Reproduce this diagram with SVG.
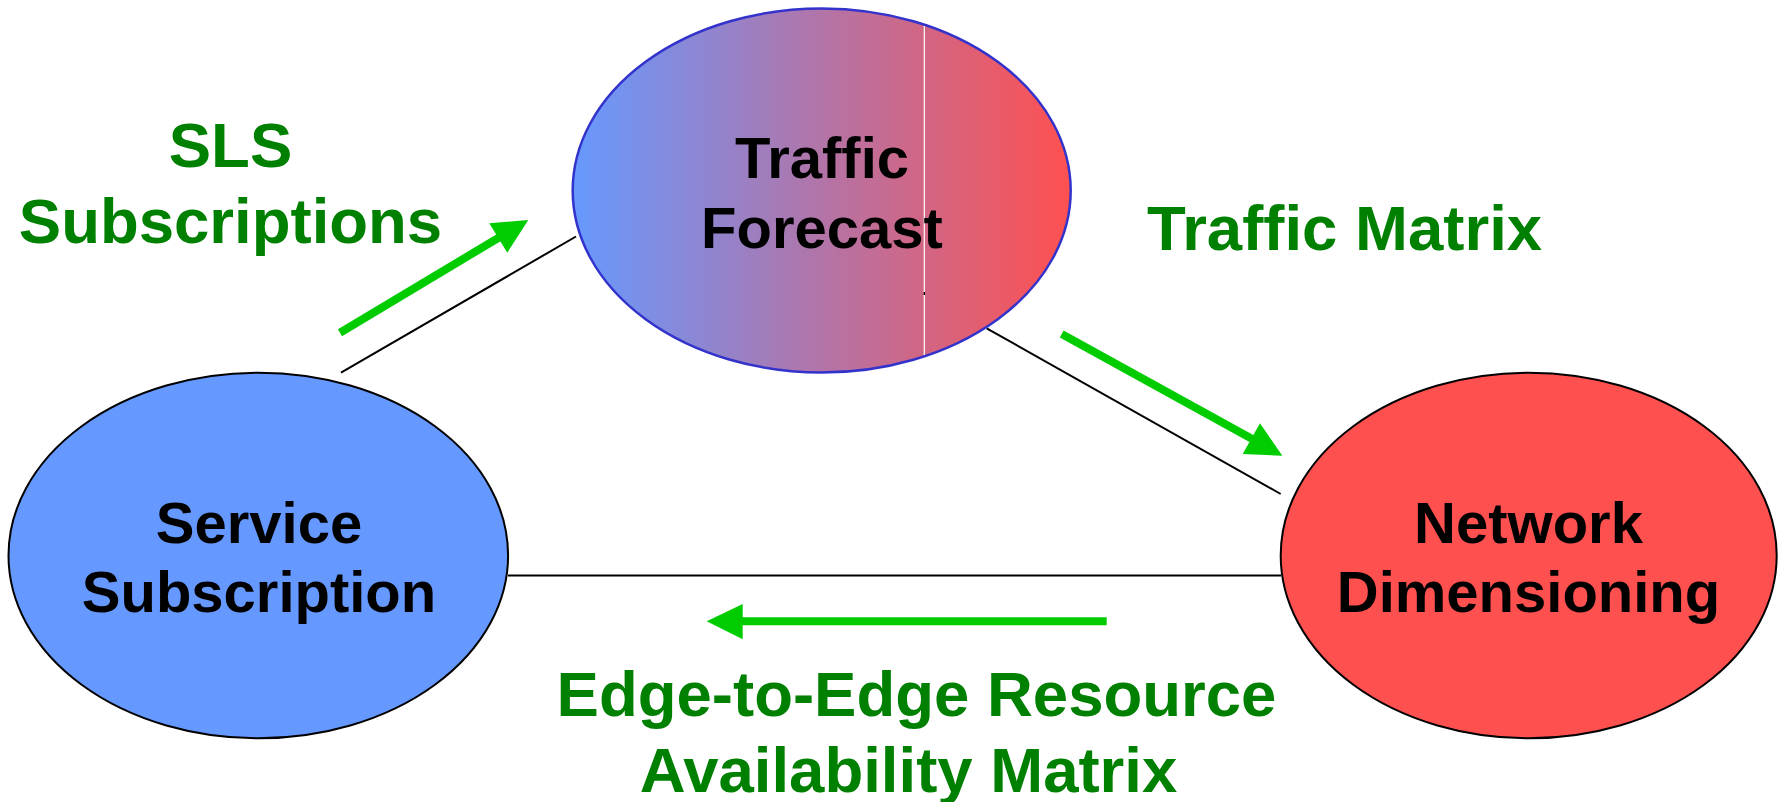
<svg xmlns="http://www.w3.org/2000/svg" width="1785" height="802" viewBox="0 0 1785 802">
<style>
.node-label{font-family:"Liberation Sans",Arial,sans-serif;font-weight:bold;font-size:58px;fill:#000;text-anchor:middle}
.flow-label{font-family:"Liberation Sans",Arial,sans-serif;font-weight:bold;font-size:63.5px;fill:#008000;text-anchor:middle}
.link{stroke:#000;stroke-width:2;fill:none}
.flow{stroke:#00CC00;stroke-width:8;fill:none}
.head{fill:#00CC00}
</style>
<defs>
<linearGradient id="tfGrad" x1="0" y1="0" x2="1" y2="0">
<stop offset="0" stop-color="#6699FF"/>
<stop offset="1" stop-color="#FF5050"/>
</linearGradient>
</defs>
<g id="connectors">
<line class="link" x1="341" y1="372.7" x2="576" y2="236.5"/>
<line class="link" x1="986.7" y1="328.3" x2="1280.7" y2="494"/>
<line class="link" x1="508" y1="575.5" x2="1281" y2="575.5"/>
<line class="flow" x1="340" y1="332.7" x2="502" y2="235.7"/>
<polygon class="head" points="528.3,220 489.3,223.3 507.3,252.7"/>
<line class="flow" x1="1061.7" y1="334" x2="1255" y2="440.5"/>
<polygon class="head" points="1282.3,455.7 1260,423.3 1242.7,454"/>
<line class="flow" x1="1106.7" y1="621.3" x2="740" y2="621.3"/>
<polygon class="head" points="706.7,621.3 742.7,604 742.7,639.3"/>
</g>
<g id="node-traffic-forecast">
<ellipse cx="821.7" cy="190.5" rx="249" ry="182" fill="url(#tfGrad)" stroke="#3333CC" stroke-width="2.5"/>
<line x1="924.3" y1="26" x2="924.3" y2="355" stroke="#FFFFFF" stroke-width="1.2"/>
<rect x="923.6" y="292" width="1.4" height="3" fill="#000"/>
<text class="node-label" x="822" y="178">Traffic</text>
<text class="node-label" x="822" y="248">Forecast</text>
</g>
<g id="node-service-subscription">
<ellipse cx="258.3" cy="555.5" rx="249.8" ry="182.8" fill="#6699FF" stroke="#000" stroke-width="2"/>
<text class="node-label" x="259" y="542.7">Service</text>
<text class="node-label" x="259" y="612.3">Subscription</text>
</g>
<g id="node-network-dimensioning">
<ellipse cx="1528.7" cy="555.5" rx="248" ry="182.8" fill="#FF5050" stroke="#000" stroke-width="2"/>
<text class="node-label" x="1528.5" y="542.7">Network</text>
<text class="node-label" x="1528.5" y="612.3">Dimensioning</text>
</g>
<g id="labels">
<text class="flow-label" x="230.5" y="166.5">SLS</text>
<text class="flow-label" x="230.5" y="242.5">Subscriptions</text>
<text class="flow-label" x="1344.5" y="250">Traffic Matrix</text>
<text class="flow-label" x="916.5" y="716">Edge-to-Edge Resource</text>
<text class="flow-label" x="908.5" y="792">Availability Matrix</text>
</g>
</svg>
